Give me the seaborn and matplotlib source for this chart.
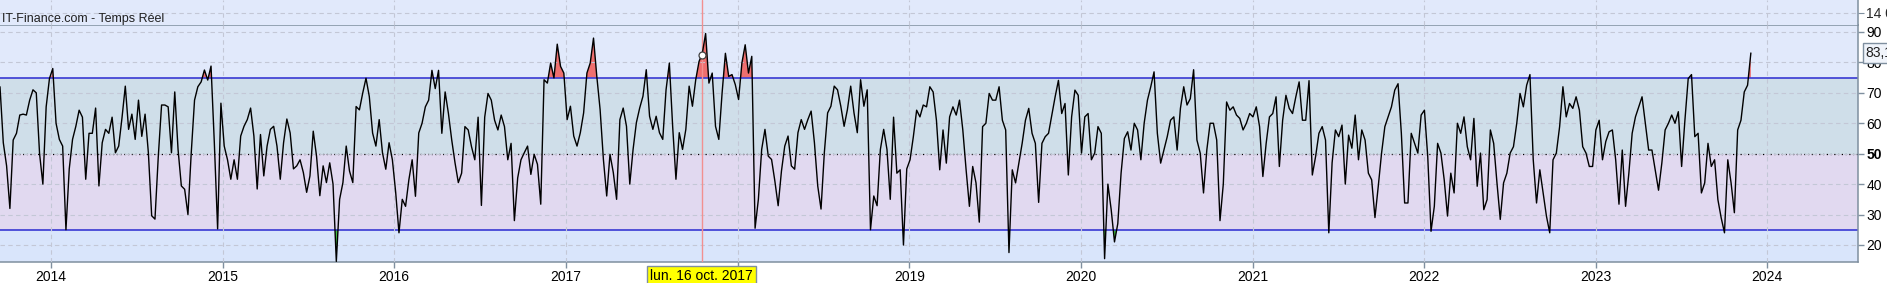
import numpy as np
import pandas as pd
import matplotlib
matplotlib.use("Agg")
import matplotlib.pyplot as plt
import matplotlib.dates as mdates
from matplotlib.transforms import blended_transform_factory
import seaborn as sns

sns.set_style("white")
plt.rcParams["font.family"] = ["Liberation Sans", "DejaVu Sans"]

# ---------------- data (weekly readings of the RSI curve) ----------------
rsi_part1 = [72, 53.6, 46, 32, 54.5, 56.7, 62.7, 63, 62.7, 67.6,
             71, 70, 50, 40, 65.4, 74.7, 78, 60, 54.7, 52.5,
             25, 45, 54.7, 59, 64.3, 62, 41.6, 56.7, 56.7, 65,
             39.4, 53.6, 58, 56.7, 62, 50.3, 52.5, 61.8, 72.2, 58,
             63, 54.7, 67.6, 55.7, 63, 50.3, 29.6, 28.5, 49, 66,
             66, 65.4, 50.3, 70.3, 51.4, 39.4, 38.3, 30, 50.3, 67.6,
             72, 73.6, 77.5, 74.2, 78.8, 53.6, 25.3, 66.6, 52.5, 48,
             41.6, 48, 41.6, 55.8, 59, 61.2, 65, 55.8, 38.4, 56.3,
             42.7, 52.5, 58, 59, 52.5, 41.6, 53.6, 61.4, 56.8, 45,
             46, 48, 43.8, 37.3, 42.7, 57.4, 49.2, 36.2, 46, 40.5]
rsi_part2 = [47, 40, 14.6, 35, 40.5, 52.5, 44.3, 40.5, 65.5, 64.4,
             69.9, 74.8, 68.8, 56.8, 52.5, 61.2, 50.3, 44.9, 53.6, 48,
             37.3, 24, 35, 32.7, 41.4, 48, 36, 56.8, 60, 65.4,
             67.6, 77.4, 71.4, 77.4, 56.7, 70.3, 63.2, 54.5, 47, 40.5,
             43.6, 58.9, 57.8, 52.3, 48, 62, 33, 62, 69.8, 67.6,
             61, 57.8, 62.7, 58.9, 48, 53.4, 28, 42, 48, 50.3,
             52.5, 43.2, 49.8, 46.5, 33.4, 74.3, 73.2, 79.8, 74.9, 86,
             78.7, 76.5, 61.2, 65.6, 55.8, 52.5, 56.9, 63.4, 76.5, 79.8,
             88, 75.4, 64.5, 48.1, 36.1, 49.8, 43.8, 35, 61.2, 65,
             59, 40, 51.4, 60.2, 65, 68.9, 77.6, 62.3, 58, 62.3]
rsi_part3 = [56.9, 54.7, 71, 79.8, 59, 41.6, 56.9, 51.4, 58, 72.2,
             65.6, 74.3, 80.3, 83, 89.5, 73.2, 76.5, 59, 54.7, 70,
             83, 75.4, 76, 72.7, 67.8, 79.8, 85.8, 76.5, 82, 25.5,
             35, 51.4, 58, 49.2, 48.1, 41, 32.9, 44.3, 52.5, 55.8,
             46, 44.9, 56.9, 61.2, 58, 61.2, 64, 53.6, 39.4, 31.8,
             50.3, 63.4, 65.6, 72.2, 71, 65.6, 59, 64.5, 72.2, 63.4,
             56.9, 74.3, 65.6, 71, 25, 36.1, 32.9, 51.4, 58, 51.4,
             35, 62, 43.6, 44.7, 20, 45, 48, 55.6, 64.3, 62.1,
             66, 65.4, 72, 70.3, 61, 44.7, 57.8, 46.9, 62.1, 65.4,
             62.7, 67.6, 57.8, 44.7, 32.7, 45.8, 40.4, 27.5, 58.9, 60]
rsi_part4 = [69.8, 67.6, 67.6, 72, 61, 57.8, 17.5, 44.7, 40.4, 46.9,
             53.4, 61, 64.9, 56.7, 53.4, 34, 53.4, 55.6, 56.7, 62.7,
             68.7, 74.1, 63.2, 66.5, 43, 62.1, 70.9, 69.2, 50.2, 62.1,
             63.2, 48, 50.2, 58.9, 56.7, 15.5, 40, 31.6, 21, 27,
             43.6, 55, 57.2, 51.2, 60, 57.8, 48, 60, 67.6, 72,
             76.9, 56.7, 46.9, 51.2, 55.6, 61, 62.1, 51.2, 64.9, 72,
             66, 68.1, 77.6, 54.5, 50.2, 37.1, 51.2, 60, 60, 54.5,
             28, 40, 67, 64.3, 65.4, 62.7, 61.6, 57.8, 60, 63.2,
             62.1, 65.4, 58.9, 42.5, 53.4, 62.1, 63.2, 68.7, 45.8, 61,
             69.2, 64.9, 63.2, 68.7, 73.6, 61, 61, 74, 43, 49.1]
rsi_part5 = [56.7, 58.9, 54.5, 24, 47, 57.8, 55.6, 59.4, 40, 56.1,
             51.8, 62.7, 48, 57.8, 54.5, 43.6, 41.4, 29, 39.3, 50.2,
             58.9, 62.1, 65.4, 70.9, 73, 56.7, 33.8, 33.8, 56.7, 53.4,
             50.2, 62.7, 64.3, 49.1, 24.5, 32.7, 53.4, 50.2, 41.4, 29.5,
             43.6, 37.1, 60, 56.7, 62.1, 52.3, 48, 61.6, 39.3, 50.2,
             31.6, 34.9, 57.8, 53.4, 40.4, 28.4, 40.4, 43.6, 50.2, 52.3,
             60, 69.8, 65.4, 72.5, 76, 48, 33.8, 44.7, 37.1, 29.5,
             24, 48, 50.2, 58.9, 72, 62.1, 66.5, 64.9, 68.7, 64.3,
             52.3, 50.2, 45.8, 45.8, 57.8, 61, 48, 54, 57.2, 57.8,
             48, 33.4, 51.2, 32.7, 43.6, 56.7, 62.1, 65.4, 68.7, 60]
rsi_part6 = [51.2, 51.2, 44.7, 38, 46.9, 57.8, 60, 62.7, 60, 63.8,
             45.8, 61, 74.7, 76, 55.6, 56.7, 37.1, 40.4, 53.4, 45.8,
             48, 34.9, 28.9, 24, 48, 40.4, 30.6, 57.8, 61, 70.3,
             72.5, 83.1]

rsi = np.array(rsi_part1 + rsi_part2 + rsi_part3 + rsi_part4 + rsi_part5 + rsi_part6)
first_date, last_date = "2013-09-14", "2023-11-27"
dates = pd.date_range(first_date, last_date, periods=len(rsi))
df = pd.DataFrame({"date": dates, "rsi": rsi})

overbought, midline, oversold = 75, 50, 25
rsi_ticks = [20, 30, 40, 50, 60, 70, 80, 90]
rsi_limits = (14.4, 92.3)
x_limits = (pd.Timestamp("2013-09-14"), pd.Timestamp("2024-07-12"))
cross_date = pd.Timestamp("2017-10-16")
cross_text = "lun. 16 oct. 2017"
value_text = "83,1"
value_level = 83.1
source_text = "IT-Finance.com - Temps Réel"
price_ticks = [14000]
price_tick_labels = ["14 000"]
price_limits = (13760, 14260)

# ---------------- styling ----------------
C_TOP = "#e1e9fb"
C_HIGH = "#cfdee9"
C_LOW = "#e1d9f0"
C_BOTTOM = "#d9e5fb"
C_SPINE = "#7f8f9f"
C_GRID = "#c3c7d6"
C_BLUE = "#2a2ad0"

W, H = 1887, 283
fig = plt.figure(figsize=(W / 100, H / 100), dpi=100)
fig.patch.set_facecolor("white")
ax = fig.add_axes([0, 1 - 262 / H, 1858 / W, (262 - 25) / H])
axp = fig.add_axes([0, 1 - 25 / H, 1858 / W, 25 / H], sharex=ax)

# bands
ax.axhspan(overbought, rsi_limits[1], color=C_TOP, lw=0, zorder=0)
ax.axhspan(midline, overbought, color=C_HIGH, lw=0, zorder=0)
ax.axhspan(oversold, midline, color=C_LOW, lw=0, zorder=0)
ax.axhspan(rsi_limits[0], oversold, color=C_BOTTOM, lw=0, zorder=0)
axp.set_facecolor(C_TOP)

# fills beyond thresholds
ax.fill_between(df["date"], df["rsi"], overbought, where=df["rsi"] > overbought,
                interpolate=True, color="#ee6f6f", lw=0, zorder=2)
ax.fill_between(df["date"], df["rsi"], oversold, where=df["rsi"] < oversold,
                interpolate=True, color="#3fbf3f", lw=0, zorder=2)

ax.axhline(overbought, color=C_BLUE, lw=1.1, zorder=2.5)
ax.axhline(oversold, color=C_BLUE, lw=1.1, zorder=2.5)
ax.axhline(midline, color="black", lw=0.9, ls=(0, (1, 2)), zorder=2.5)

sns.lineplot(data=df, x="date", y="rsi", ax=ax, color="black", lw=1.0,
             zorder=3, legend=False)

# crosshair
for a in (ax, axp):
    a.axvline(cross_date, color="#f29090", lw=1.0, zorder=2.8)
cross_val = np.interp(mdates.date2num(cross_date), mdates.date2num(df["date"]), df["rsi"])
ax.plot([cross_date], [cross_val], marker="o", ms=5, mfc="white", mec="#404040",
        mew=0.9, zorder=4)

# axes setup
ax.set_xlim(*x_limits)
ax.set_ylim(*rsi_limits)
ax.set_xlabel("")
ax.set_ylabel("")
ax.yaxis.tick_right()
ax.set_yticks(rsi_ticks)
ax.set_yticklabels([str(t) for t in rsi_ticks])
for lab in ax.get_yticklabels():
    if lab.get_text() == str(midline):
        lab.set_fontweight("bold")
year_ticks = pd.date_range("2014-01-01", "2024-01-01", freq="YS")
ax.set_xticks(year_ticks)
# the year under the crosshair date box is hidden by that box in the reference
ax.set_xticklabels(["" if abs((d - cross_date).days) < 120 else str(d.year)
                    for d in year_ticks])
ax.tick_params(axis="both", which="both", length=4, width=1, color=C_SPINE,
               labelsize=10, labelcolor="black", pad=2, direction="out")
ax.tick_params(axis="y", left=False, right=True)
ax.tick_params(axis="x", bottom=True)
ax.grid(True, color=C_GRID, ls=(0, (4, 3)), lw=0.8, zorder=1)
ax.set_axisbelow(False)
for g in ax.get_xgridlines() + ax.get_ygridlines():
    g.set_zorder(1)
ax.spines["left"].set_visible(False)
for s in ["right", "bottom", "top"]:
    ax.spines[s].set_color(C_SPINE)
    ax.spines[s].set_linewidth(1.1)

axp.set_ylim(*price_limits)
axp.set_yticks(price_ticks)
axp.set_yticklabels(price_tick_labels)
axp.yaxis.tick_right()
axp.tick_params(axis="y", length=4, color=C_SPINE, labelsize=10, pad=2)
axp.tick_params(axis="x", bottom=False, labelbottom=False)
axp.grid(True, color=C_GRID, ls=(0, (4, 3)), lw=0.8)
for s in ["left", "top", "bottom"]:
    axp.spines[s].set_visible(False)
axp.spines["right"].set_color(C_SPINE)
axp.spines["right"].set_linewidth(1.1)

# labels
fig.text(2 / W, 1 - 19 / H, source_text, ha="left", va="center", fontsize=9,
         color="#202020")
trans = blended_transform_factory(ax.transData, ax.transAxes)
ax.text(cross_date, -0.058, cross_text, transform=trans, ha="center", va="center",
        fontsize=10, color="black", zorder=20, clip_on=False,
        bbox=dict(boxstyle="square,pad=0.2", fc="#ffff00", ec=C_SPINE, lw=1))
trans2 = blended_transform_factory(ax.transAxes, ax.transData)
ax.text(1.004, value_level, value_text, transform=trans2, ha="left", va="center",
        fontsize=10, color="#202020", zorder=20, clip_on=False,
        bbox=dict(boxstyle="square,pad=0.2", fc="#f0f4fb", ec=C_SPINE, lw=1))

fig.savefig("out.png", dpi=100, facecolor="white")
